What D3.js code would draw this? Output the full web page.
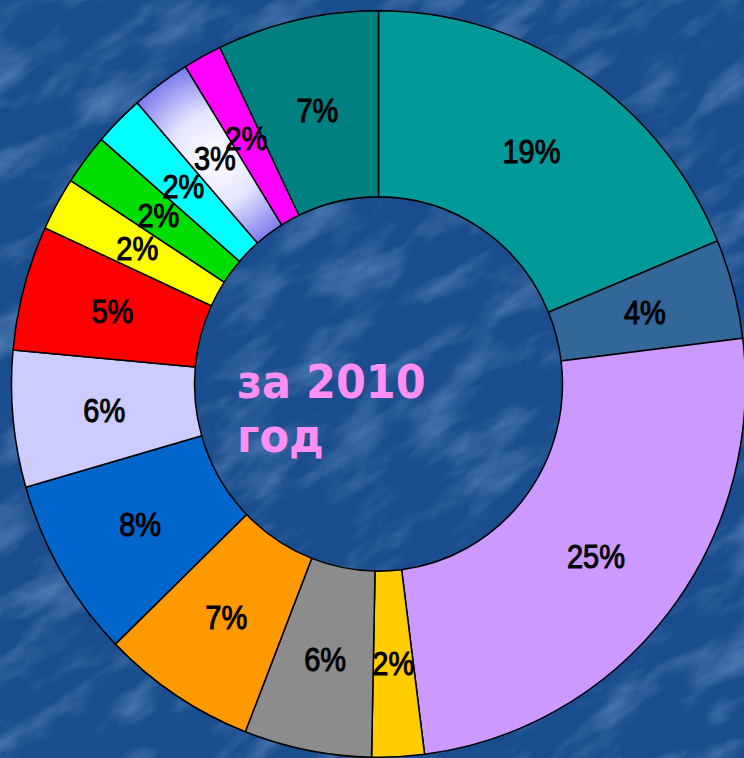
<!DOCTYPE html>
<html>
<head>
<meta charset="utf-8">
<script src="https://cdn.jsdelivr.net/npm/d3@7"></script>
<style>
   body { margin: 0; background: #1a4c8c; overflow: hidden; }
   .label { font-family: 'Liberation Sans', Arial, sans-serif; font-size: 29px; fill: #000; stroke: #000; stroke-width: 0.9px; }
   .title { font-family: 'DejaVu Sans', Verdana, sans-serif; font-weight: bold; font-size: 43px; fill: #ff8ff2; }
</style>
</head>
<body>
<div id="chart"></div>
<script>
const width = 744;
const height = 758;

const values = [18.7, 4.3, 24.9, 2.3, 5.6, 6.8, 7.8, 5.9, 5.4, 2.3, 2.2, 2.2, 2.6, 1.7, 7.1];
const labels = ['19%', '4%', '25%', '2%', '6%', '7%', '8%', '6%', '5%', '2%', '2%', '2%', '3%', '2%', '7%'];
const colours = ['#009999', '#336699', '#cc99ff', '#ffcc00', '#8c8c8c', '#ff9900', '#0066cc',
                 '#ccccff', '#ff0000', '#ffff00', '#00dd00', '#00ffff', 'url(#glow)', '#ff00ff', '#008080'];
const titleLines = ['за 2010', 'год'];

const cx = 378.5, cy = 384;
const innerR = 184, outerR = 367;
const squash = 1.017; // ring is a touch taller than wide

const svg = d3.select('#chart').append('svg')
   .attr('width', width)
   .attr('height', height);

const defs = svg.append('defs');

// mottled background
const noise = defs.append('filter')
   .attr('id', 'noise')
   .attr('x', 0).attr('y', 0).attr('width', 1).attr('height', 1);
noise.append('feTurbulence')
   .attr('type', 'fractalNoise')
   .attr('baseFrequency', '0.012 0.03')
   .attr('numOctaves', 4)
   .attr('seed', 7);
noise.append('feColorMatrix')
   .attr('type', 'matrix')
   .attr('values', '0 0 0 0 0.4  0 0 0 0 0.6  0 0 0 0 0.9  2.2 0 0 0 -1.0');

svg.append('rect')
   .attr('width', width)
   .attr('height', height)
   .style('fill', '#1a4d8d');

svg.append('g')
   .attr('transform', `translate(${width/2},${height/2}) rotate(-35)`)
   .append('rect')
   .attr('x', -700).attr('y', -700)
   .attr('width', 1400).attr('height', 1400)
   .attr('filter', 'url(#noise)')
   .style('opacity', 0.4);

const pie = d3.pie()
   .sort(null)
   .value(d => d);

const arcs = pie(values);

const arc = d3.arc()
   .innerRadius(innerR)
   .outerRadius(outerR);

// white-to-violet fill for the 3% slice
const c12 = arc.centroid(arcs[12]);
const glow = defs.append('radialGradient')
   .attr('id', 'glow')
   .attr('gradientUnits', 'userSpaceOnUse')
   .attr('cx', c12[0]).attr('cy', c12[1])
   .attr('r', 115);
glow.append('stop').attr('offset', 0).attr('stop-color', '#ffffff');
glow.append('stop').attr('offset', 0.4).attr('stop-color', '#e4e4ff');
glow.append('stop').attr('offset', 1).attr('stop-color', '#4b4be6');

const ring = svg.append('g')
   .attr('transform', `translate(${cx},${cy}) scale(1,${squash})`);

ring.selectAll('path.slice')
   .data(arcs)
   .enter()
   .append('path')
   .attr('class', 'slice')
   .attr('d', arc)
   .style('fill', (d, i) => colours[i])
   .style('stroke', '#000')
   .style('stroke-width', 1.5)
   .style('stroke-linejoin', 'round');

svg.append('g')
   .attr('transform', `translate(${cx},${cy})`)
   .selectAll('text.label')
   .data(arcs)
   .enter()
   .append('text')
   .attr('class', 'label')
   .attr('transform', d => {
      const c = arc.centroid(d);
      return `translate(${c[0]},${c[1]*squash}) scale(1,1.12)`;
   })
   .attr('text-anchor', 'middle')
   .attr('dy', '0.36em')
   .text((d, i) => labels[i]);

svg.selectAll('text.title')
   .data(titleLines)
   .enter()
   .append('text')
   .attr('class', 'title')
   .attr('transform', (d, i) => `translate(237,${398 + i*54}) scale(1,1.08)`)
   .text(d => d);
</script>
</body>
</html>
